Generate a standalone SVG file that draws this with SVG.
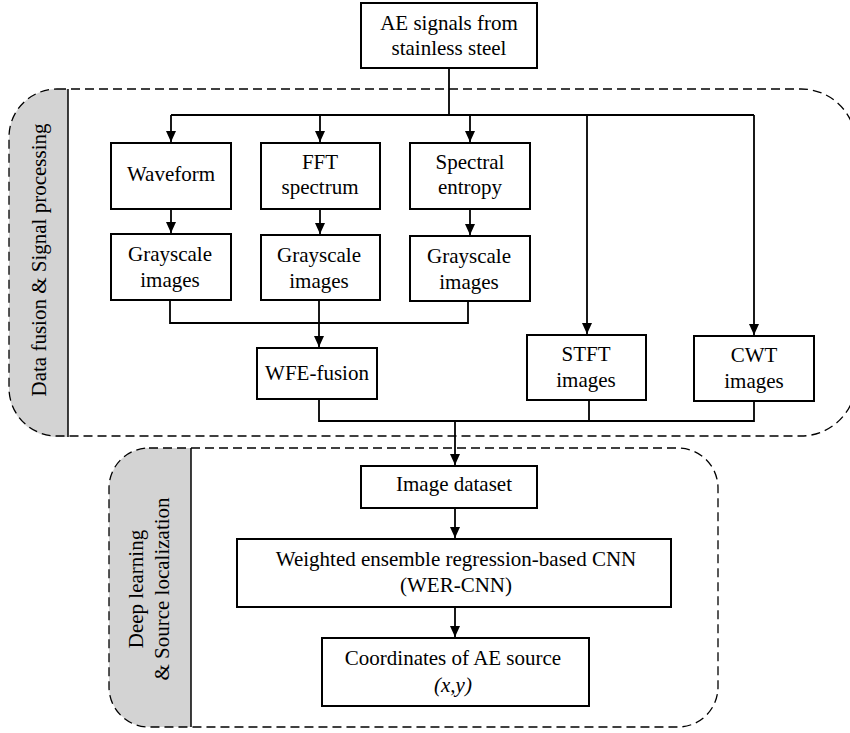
<svg xmlns="http://www.w3.org/2000/svg" width="850" height="733" viewBox="0 0 850 733">
<defs>
<style>
.box{fill:#fff;stroke:#000;stroke-width:2}
.ln{fill:none;stroke:#000;stroke-width:1.8}
.dash{fill:none;stroke:#000;stroke-width:1.3;stroke-dasharray:9 5}
.panel{fill:#d3d3d3;stroke:none}
.sep{stroke:#000;stroke-width:1.5}
.t{font-size:21px;fill:#000;text-anchor:middle}
.it{font-style:italic}
</style>
<marker id="ad" markerUnits="userSpaceOnUse" markerWidth="10" markerHeight="11" viewBox="0 0 10 11" refX="5" refY="11" orient="0">
<path d="M0,0 L10,0 L5,11 Z" fill="#000"/>
</marker>
</defs>

<g id="group-signal-processing">
<path class="panel" d="M68,89 H57 A48,48 0 0 0 9,137 V389 A48,48 0 0 0 57,437 H68 Z"/>
<path class="dash" d="M57,89 H801 A55,55 0 0 1 856,144 V381 A55,55 0 0 1 801,436 H57 A48,48 0 0 1 9,388 V137 A48,48 0 0 1 57,89 Z"/>
<line class="sep" x1="68" y1="89" x2="68" y2="437"/>
<text class="t" font-family="Liberation Serif" transform="translate(46,260) rotate(-90)">Data fusion &amp; Signal processing</text>
</g>

<g id="group-deep-learning">
<path class="panel" d="M191,448 H149 A40,40 0 0 0 109,488 V687 A40,40 0 0 0 149,727 H191 Z"/>
<path class="dash" d="M149,448 H678 A40,40 0 0 1 718,488 V687 A40,40 0 0 1 678,727 H149 A40,40 0 0 1 109,687 V488 A40,40 0 0 1 149,448 Z"/>
<line class="sep" x1="191" y1="448" x2="191" y2="727"/>
<text class="t" font-family="Liberation Serif" transform="translate(143,589) rotate(-90)">Deep learning</text>
<text class="t" font-family="Liberation Serif" transform="translate(169,589) rotate(-90)">&amp; Source localization</text>
</g>

<g id="connectors">
<path class="ln" d="M449,68 V115"/>
<path class="ln" d="M171,115 H754"/>
<path class="ln" d="M171,115 V142" marker-end="url(#ad)"/>
<path class="ln" d="M320,115 V142" marker-end="url(#ad)"/>
<path class="ln" d="M470,115 V142" marker-end="url(#ad)"/>
<path class="ln" d="M587,115 V334" marker-end="url(#ad)"/>
<path class="ln" d="M754,115 V335" marker-end="url(#ad)"/>
<path class="ln" d="M171,209 V233" marker-end="url(#ad)"/>
<path class="ln" d="M320,209 V234" marker-end="url(#ad)"/>
<path class="ln" d="M470,209 V235" marker-end="url(#ad)"/>
<path class="ln" d="M170,300 V323 H468 V301"/>
<path class="ln" d="M319,300 V347" marker-end="url(#ad)"/>
<path class="ln" d="M319,399 V421 H754 V401"/>
<path class="ln" d="M589,400 V421"/>
<path class="ln" d="M455,421 V465" marker-end="url(#ad)"/>
<path class="ln" d="M455,508 V538" marker-end="url(#ad)"/>
<path class="ln" d="M455,607 V637" marker-end="url(#ad)"/>
</g>

<g font-family="Liberation Serif">
<g id="node-ae-signals">
<rect class="box" x="361" y="3" width="176" height="65"/>
<text class="t" x="449" y="30">AE signals from</text>
<text class="t" x="449" y="55">stainless steel</text>
</g>
<g id="node-waveform">
<rect class="box" x="111" y="143" width="120" height="66"/>
<text class="t" x="171" y="181">Waveform</text>
</g>
<g id="node-fft">
<rect class="box" x="261" y="143" width="119" height="66"/>
<text class="t" x="320" y="169">FFT</text>
<text class="t" x="320" y="194">spectrum</text>
</g>
<g id="node-spectral-entropy">
<rect class="box" x="410" y="143" width="120" height="66"/>
<text class="t" x="470" y="169">Spectral</text>
<text class="t" x="470" y="194">entropy</text>
</g>
<g id="node-gray-1">
<rect class="box" x="111" y="234" width="120" height="66"/>
<text class="t" x="170" y="261">Grayscale</text>
<text class="t" x="170" y="287">images</text>
</g>
<g id="node-gray-2">
<rect class="box" x="261" y="235" width="119" height="65"/>
<text class="t" x="319" y="262">Grayscale</text>
<text class="t" x="319" y="288">images</text>
</g>
<g id="node-gray-3">
<rect class="box" x="410" y="236" width="120" height="65"/>
<text class="t" x="469" y="263">Grayscale</text>
<text class="t" x="469" y="289">images</text>
</g>
<g id="node-wfe-fusion">
<rect class="box" x="257" y="348" width="120" height="51"/>
<text class="t" x="317" y="380">WFE-fusion</text>
</g>
<g id="node-stft">
<rect class="box" x="527" y="335" width="119" height="65"/>
<text class="t" x="586" y="361">STFT</text>
<text class="t" x="586" y="387">images</text>
</g>
<g id="node-cwt">
<rect class="box" x="694" y="336" width="120" height="65"/>
<text class="t" x="754" y="362">CWT</text>
<text class="t" x="754" y="388">images</text>
</g>
<g id="node-image-dataset">
<rect class="box" x="361" y="466" width="176" height="42"/>
<text class="t" x="454" y="491">Image dataset</text>
</g>
<g id="node-wer-cnn">
<rect class="box" x="237" y="539" width="434" height="68"/>
<text class="t" x="456" y="566">Weighted ensemble regression-based CNN</text>
<text class="t" x="456" y="592">(WER-CNN)</text>
</g>
<g id="node-coordinates">
<rect class="box" x="322" y="638" width="267" height="68"/>
<text class="t" x="453" y="665">Coordinates of AE source</text>
<text class="t it" x="453" y="692">(x,y)</text>
</g>
</g>
</svg>
